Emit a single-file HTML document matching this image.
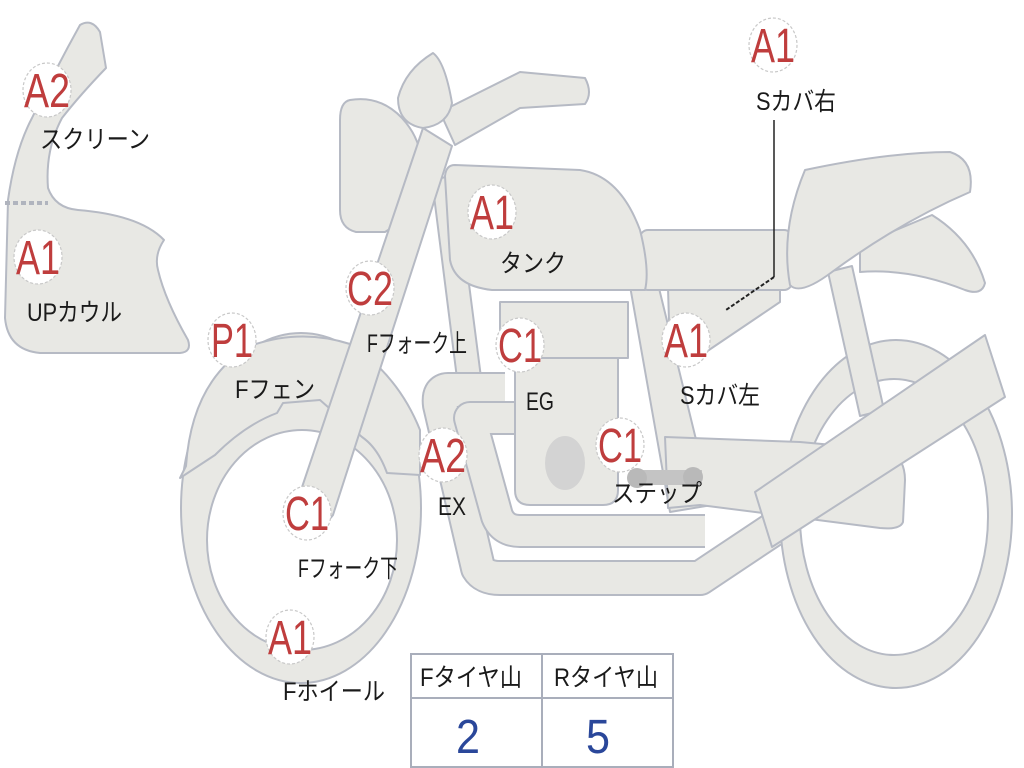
<!DOCTYPE html>
<html><head><meta charset="utf-8"><style>
html,body{margin:0;padding:0;background:#fff;}
svg{display:block;}
.s{fill:#e8e8e4;stroke:#b6bac4;stroke-width:2;stroke-linejoin:round;}
.b{fill:#fff;stroke:#c8c8c8;stroke-width:1.2;stroke-dasharray:3 2;}
.r{fill:#bf3d3d;font-family:"Liberation Sans",sans-serif;font-size:48px;text-anchor:middle;}
.t{fill:#1a1a1a;font-family:"Liberation Sans","Noto Sans CJK JP",sans-serif;font-size:25px;}
</style></head><body>
<svg width="1024" height="768" viewBox="0 0 1024 768">
<path class="s" d="M80,25 Q92,18 100,32 L106,68 Q80,95 62,118 Q45,150 48,188 Q55,208 78,210 Q140,215 164,240 Q154,255 158,270 Q165,300 188,340 Q192,352 180,353 L40,353 Q8,350 5,318 L8,200 Q15,150 32,118 Q55,70 80,25 Z"/>
<line x1="5" y1="203" x2="48" y2="203" stroke="#b0b4be" stroke-width="4" stroke-dasharray="5 3"/>
<path class="s" fill-rule="evenodd" d="M780,514 a116,174 0 1,0 232,0 a116,174 0 1,0 -232,0 Z M800,517 a94,138 0 1,0 188,0 a94,138 0 1,0 -188,0 Z"/>
<polygon class="s" points="828,272 852,266 884,410 860,416"/>
<path class="s" fill-rule="evenodd" d="M181,508 a120,175 0 1,0 240,0 a120,175 0 1,0 -240,0 Z M207,540 a95,110 0 1,0 190,0 a95,110 0 1,0 -190,0 Z"/>
<path class="s" d="M180,478 L186,466 Q192,380 250,346 Q300,328 350,344 Q398,375 420,430 L420,475 L387,473 Q378,448 362,437 L320,400 L283,403 L277,413 Q245,425 215,455 Z"/>
<polygon class="s" points="432,180 455,175 488,432 464,434"/>
<path d="M505,390 L448,390 Q438,390 440,405 L478,568 Q484,578 500,578 L700,578 L772,530" fill="none" stroke="#b6bac4" stroke-width="36" stroke-linejoin="round"/>
<path d="M505,390 L448,390 Q438,390 440,405 L478,568 Q484,578 500,578 L700,578 L772,530" fill="none" stroke="#e8e8e4" stroke-width="32" stroke-linejoin="round"/>
<path d="M515,418 L470,418 L497,516 Q503,531 520,531 L705,531" fill="none" stroke="#b6bac4" stroke-width="34" stroke-linejoin="round"/>
<path d="M515,418 L470,418 L497,516 Q503,531 520,531 L705,531" fill="none" stroke="#e8e8e4" stroke-width="30" stroke-linejoin="round"/>
<path class="s" d="M515,358 L618,358 L618,490 Q618,505 603,505 L530,505 Q515,505 515,490 Z"/>
<rect class="s" x="500" y="302" width="128" height="56"/>
<ellipse cx="565" cy="463" rx="20" ry="27" fill="#d3d3d3"/>
<polygon class="s" points="630,286 657,280 712,505 670,512"/>
<path class="s" d="M665,437 L800,442 L888,450 Q905,458 905,480 L903,522 Q900,530 880,528 L700,505 L668,508 Z"/>
<rect x="630" y="470" width="72" height="15" fill="#c4c4c4"/>
<circle cx="637" cy="478" r="10" fill="#b9b9b9"/><circle cx="693" cy="477" r="10" fill="#b9b9b9"/>
<polygon class="s" points="668,288 780,288 780,302 706,352 670,355"/>
<rect class="s" x="640" y="230" width="152" height="60" rx="8"/>
<path class="s" d="M860,245 L932,215 Q972,240 985,283 Q982,296 965,290 Q910,268 860,272 Z"/>
<path class="s" d="M805,170 Q890,152 950,152 Q975,160 970,192 Q900,222 832,272 Q800,296 790,285 Q780,230 805,170 Z"/>
<polygon class="s" points="755,492 985,335 1005,397 772,547"/>
<path class="s" d="M455,165 L580,170 Q620,176 640,230 Q650,270 645,290 L492,290 Q455,286 450,260 L445,176 Q446,165 455,165 Z"/>
<path class="s" d="M440,112 L520,72 L585,78 Q593,93 585,104 L520,108 L455,145 Z"/>
<path class="s" d="M350,100 Q380,95 402,118 Q424,142 422,175 Q418,212 385,232 L356,232 Q340,228 340,210 L340,120 Q340,102 350,100 Z"/>
<path class="s" d="M433,53 Q445,62 452,103 Q448,125 423,128 Q398,124 398,98 Q405,70 433,53 Z"/>
<path class="s" d="M423,128 L452,146 L333,515 Q322,530 305,524 Q292,515 296,505 Z"/>
<polyline points="774,120 774,277" fill="none" stroke="#222" stroke-width="1.5"/>
<line x1="774" y1="277" x2="726" y2="310" stroke="#222" stroke-width="2" stroke-dasharray="4 2"/>
<g>
<ellipse class="b" cx="47" cy="90" rx="24" ry="27"/><text class="r" x="47" y="107" textLength="46" lengthAdjust="spacingAndGlyphs">A2</text>
<ellipse class="b" cx="38" cy="257" rx="24" ry="27"/><text class="r" x="38" y="274" textLength="44" lengthAdjust="spacingAndGlyphs">A1</text>
<ellipse class="b" cx="232" cy="340" rx="24" ry="27"/><text class="r" x="232" y="357" textLength="42" lengthAdjust="spacingAndGlyphs">P1</text>
<ellipse class="b" cx="370" cy="288" rx="24" ry="27"/><text class="r" x="370" y="305" textLength="46" lengthAdjust="spacingAndGlyphs">C2</text>
<ellipse class="b" cx="492" cy="212" rx="24" ry="27"/><text class="r" x="492" y="229" textLength="44" lengthAdjust="spacingAndGlyphs">A1</text>
<ellipse class="b" cx="520" cy="345" rx="24" ry="27"/><text class="r" x="520" y="362" textLength="44" lengthAdjust="spacingAndGlyphs">C1</text>
<ellipse class="b" cx="686" cy="340" rx="24" ry="27"/><text class="r" x="686" y="357" textLength="44" lengthAdjust="spacingAndGlyphs">A1</text>
<ellipse class="b" cx="773" cy="45" rx="24" ry="27"/><text class="r" x="773" y="62" textLength="44" lengthAdjust="spacingAndGlyphs">A1</text>
<ellipse class="b" cx="443" cy="455" rx="24" ry="27"/><text class="r" x="443" y="472" textLength="46" lengthAdjust="spacingAndGlyphs">A2</text>
<ellipse class="b" cx="620" cy="445" rx="24" ry="27"/><text class="r" x="620" y="462" textLength="44" lengthAdjust="spacingAndGlyphs">C1</text>
<ellipse class="b" cx="307" cy="513" rx="24" ry="27"/><text class="r" x="307" y="530" textLength="44" lengthAdjust="spacingAndGlyphs">C1</text>
<ellipse class="b" cx="290" cy="637" rx="24" ry="27"/><text class="r" x="290" y="654" textLength="44" lengthAdjust="spacingAndGlyphs">A1</text>
</g>
<text class="t" x="40" y="148" textLength="110" lengthAdjust="spacingAndGlyphs">スクリーン</text>
<text class="t" x="27" y="321" textLength="95" lengthAdjust="spacingAndGlyphs">UPカウル</text>
<text class="t" x="235" y="398" textLength="80" lengthAdjust="spacingAndGlyphs">Fフェン</text>
<text class="t" x="367" y="352" textLength="100" lengthAdjust="spacingAndGlyphs">Fフォーク上</text>
<text class="t" x="500" y="272" textLength="66" lengthAdjust="spacingAndGlyphs">タンク</text>
<text class="t" x="526" y="410" textLength="28" lengthAdjust="spacingAndGlyphs">EG</text>
<text class="t" x="680" y="404" textLength="80" lengthAdjust="spacingAndGlyphs">Sカバ左</text>
<text class="t" x="756" y="110" textLength="80" lengthAdjust="spacingAndGlyphs">Sカバ右</text>
<text class="t" x="438" y="515" textLength="28" lengthAdjust="spacingAndGlyphs">EX</text>
<text class="t" x="612" y="502" textLength="90" lengthAdjust="spacingAndGlyphs">ステップ</text>
<text class="t" x="298" y="577" textLength="100" lengthAdjust="spacingAndGlyphs">Fフォーク下</text>
<text class="t" x="283" y="700" textLength="102" lengthAdjust="spacingAndGlyphs">Fホイール</text>
<rect x="411" y="654" width="262" height="113" fill="#fff" stroke="#a9aebb" stroke-width="2"/>
<line x1="411" y1="698" x2="673" y2="698" stroke="#a9aebb" stroke-width="2"/>
<line x1="542" y1="654" x2="542" y2="767" stroke="#a9aebb" stroke-width="2"/>
<text class="t" x="420" y="686" textLength="102" lengthAdjust="spacingAndGlyphs">Fタイヤ山</text>
<text class="t" x="554" y="686" textLength="104" lengthAdjust="spacingAndGlyphs">Rタイヤ山</text>
<text x="468" y="753" fill="#2a479a" font-family="Liberation Sans,sans-serif" font-size="48" text-anchor="middle" textLength="24" lengthAdjust="spacingAndGlyphs">2</text>
<text x="598" y="753" fill="#2a479a" font-family="Liberation Sans,sans-serif" font-size="48" text-anchor="middle" textLength="24" lengthAdjust="spacingAndGlyphs">5</text>
</svg>
</body></html>
